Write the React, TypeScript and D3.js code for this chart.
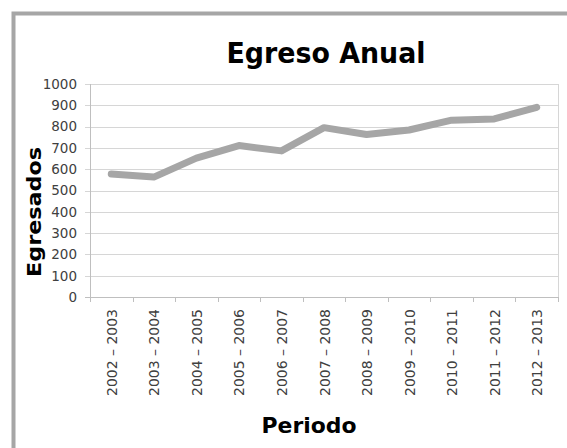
import React from "react";
import * as d3 from "d3";

const periods = [
  "2002 – 2003", "2003 – 2004", "2004 – 2005", "2005 – 2006", "2006 – 2007",
  "2007 – 2008", "2008 – 2009", "2009 – 2010", "2010 – 2011", "2011 – 2012", "2012 – 2013",
];
const egresados = [577, 563, 652, 711, 686, 795, 763, 784, 830, 836, 890];
const yTicks = [0, 100, 200, 300, 400, 500, 600, 700, 800, 900, 1000];

const W = 567, H = 448;
const M = { left: 90, right: 558, top: 84, bottom: 297 };
const FONT = "'DejaVu Sans', sans-serif";

export default function App() {
  const x = d3.scaleBand<string>().domain(periods).range([M.left, M.right]);
  const y = d3.scaleLinear().domain([0, 1000]).range([M.bottom, M.top]);
  const line = d3.line<number>()
    .x((_, i) => (x(periods[i]) as number) + x.bandwidth() / 2)
    .y((d) => y(d));
  const boundaries = periods.map((p) => x(p) as number).concat([M.right]);
  return (
    <svg width={W} height={H} style={{ position: "absolute", left: 0, top: 0, background: "#fff" }}>
      <rect x={0} y={0} width={W} height={H} fill="#fff" />
      <rect x={13.5} y={13.5} width={W + 20} height={H + 20} fill="#fff" stroke="#a6a6a6" strokeWidth={4} />
      {yTicks.map((t) => (
        <g key={t}>
          <line x1={M.left - 5} x2={M.right} y1={Math.round(y(t)) + 0.5} y2={Math.round(y(t)) + 0.5}
            stroke={t === 0 ? "#bfbfbf" : "#d6d6d6"} strokeWidth={1} />
          <text x={77} y={y(t)} dy="0.36em" textAnchor="end" fontFamily={FONT} fontSize={13.5} fill="#404040">{t}</text>
        </g>
      ))}
      <line x1={M.left + 0.5} x2={M.left + 0.5} y1={M.top} y2={M.bottom} stroke="#bfbfbf" />
      <line x1={M.right + 0.5} x2={M.right + 0.5} y1={M.top} y2={M.bottom} stroke="#d6d6d6" />
      {boundaries.map((b, i) => (
        <line key={i} x1={Math.round(b) + 0.5} x2={Math.round(b) + 0.5} y1={M.bottom} y2={M.bottom + 5} stroke="#bfbfbf" />
      ))}
      {periods.map((p) => {
        const cx = (x(p) as number) + x.bandwidth() / 2;
        return (
          <text key={p} transform={`translate(${cx + 5.5},309) rotate(-90)`} textAnchor="end"
            fontFamily={FONT} fontSize={13.5} textLength={87} lengthAdjust="spacingAndGlyphs" fill="#404040">{p}</text>
        );
      })}
      <path d={line(egresados) || ""} fill="none" stroke="#a6a6a6" strokeWidth={7}
        strokeLinecap="round" strokeLinejoin="round" />
      <text x={326} y={63} textAnchor="middle" fontFamily={FONT} fontWeight="bold" fontSize={28.5}
        textLength={199} lengthAdjust="spacingAndGlyphs" fill="#000">Egreso Anual</text>
      <text x={309} y={433} textAnchor="middle" fontFamily={FONT} fontWeight="bold" fontSize={22}
        textLength={95} lengthAdjust="spacingAndGlyphs" fill="#000">Periodo</text>
      <text transform="translate(41,212) rotate(-90)" textAnchor="middle" fontFamily={FONT} fontWeight="bold" fontSize={20}
        textLength={130} lengthAdjust="spacingAndGlyphs" fill="#000">Egresados</text>
    </svg>
  );
}
